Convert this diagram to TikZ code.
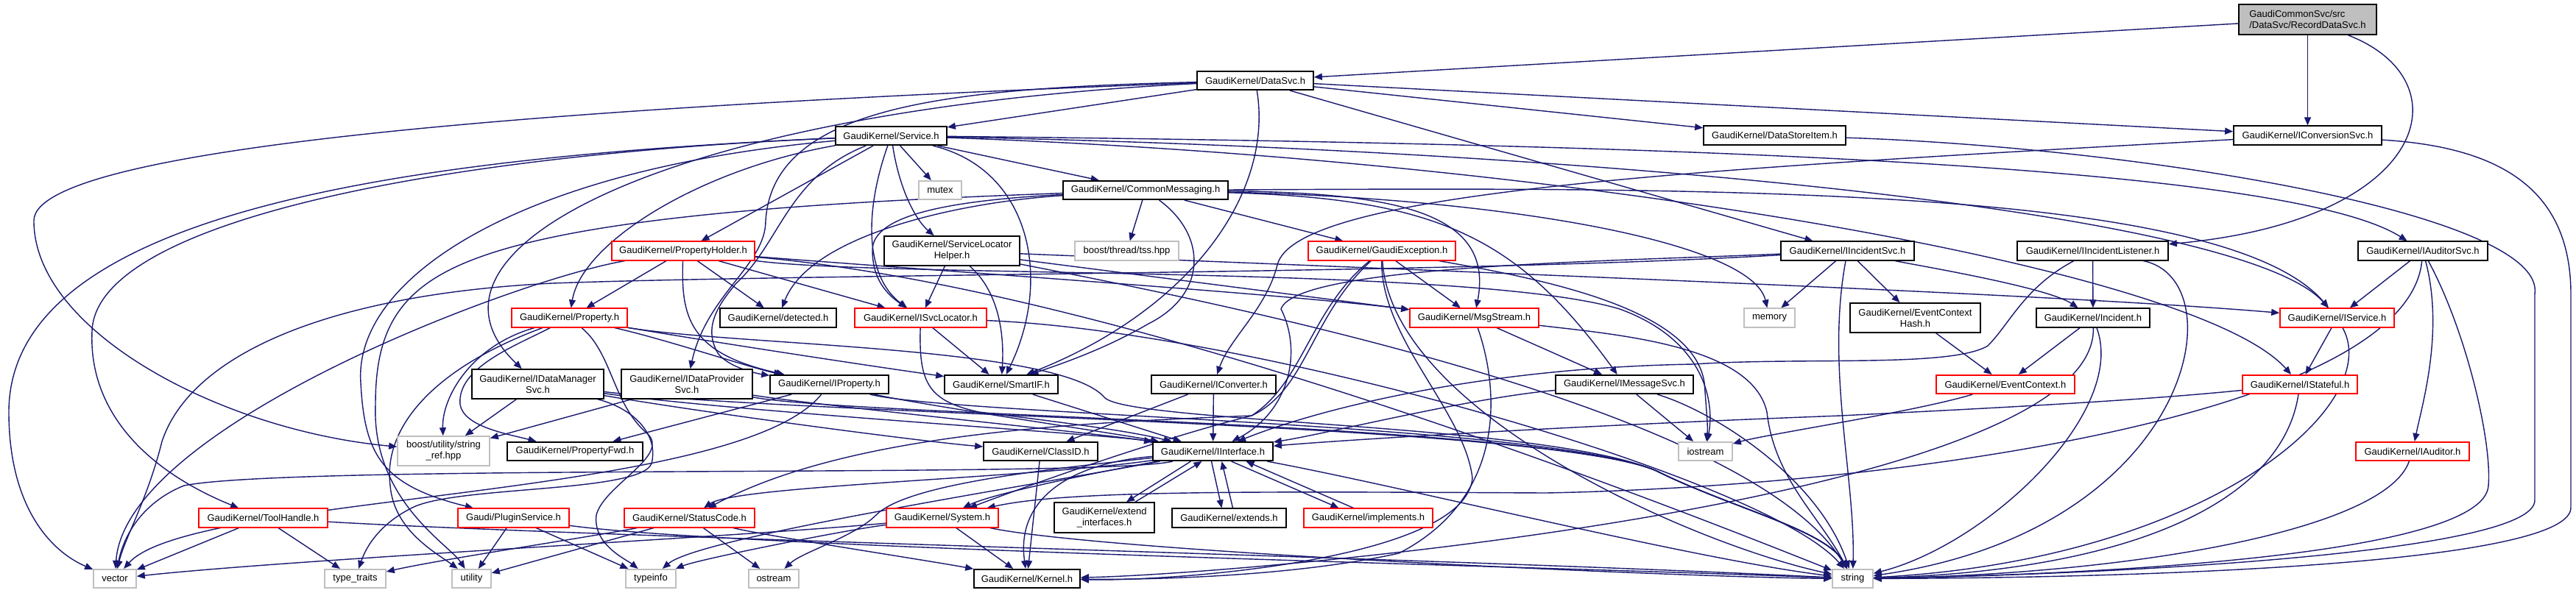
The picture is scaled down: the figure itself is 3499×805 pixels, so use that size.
\documentclass[tikz,border=0pt]{standalone}
\usepackage{fontspec}
\setmainfont{Liberation Sans}
\usetikzlibrary{arrows.meta}
\definecolor{edgec}{HTML}{191970}
\definecolor{grayb}{HTML}{BFBFBF}
\pgfdeclarelayer{bg}
\pgfsetlayers{bg,main}
\begin{document}
\begin{tikzpicture}[x=0.01cm,y=-0.01cm,
  gbox/.style={draw, fill=white, line width=0.45pt, inner sep=0pt, font=\fontsize{3.7}{4.3}\selectfont, minimum height=0.255cm, align=center},
  nb/.style={gbox, draw=black},
  nr/.style={gbox, draw=red},
  ng/.style={gbox, draw=grayb},
  edg/.style={draw=edgec, line width=0.4pt, -{Triangle[length=0.11cm,width=0.09cm]}},
]
\useasboundingbox (0,0) rectangle (3499,805);
\begin{pgfonlayer}{bg}
\fill[white] (0,0) rectangle (3499,805);
\end{pgfonlayer}
% ---------------- nodes ----------------
\node[nb, fill=grayb, align=left, minimum width=1.87cm, minimum height=0.41cm] (R) at (3134.5,26.5) {GaudiCommonSvc/src\\/DataSvc/RecordDataSvc.h};
\node[nb, minimum width=1.58cm] (DS) at (1705,109.5) {GaudiKernel/DataSvc.h};
\node[nb, minimum width=1.51cm] (SV) at (1210.5,184.5) {GaudiKernel/Service.h};
\node[nb, minimum width=1.93cm] (DSI) at (2410.5,184) {GaudiKernel/DataStoreItem.h};
\node[nb, minimum width=2.01cm] (ICS) at (3134.5,184) {GaudiKernel/IConversionSvc.h};
\node[ng, minimum width=0.58cm] (MX) at (1277,258.5) {mutex};
\node[nb, minimum width=2.24cm] (CM) at (1556,258.5) {GaudiKernel/CommonMessaging.h};
\node[nr, minimum width=1.94cm] (PH) at (928,341) {GaudiKernel/PropertyHolder.h};
\node[nb, minimum width=1.84cm, minimum height=0.40cm] (SLH) at (1293,341) {GaudiKernel/ServiceLocator\\Helper.h};
\node[ng, minimum width=1.41cm] (TSS) at (1530.5,341) {boost/thread/tss.hpp};
\node[nr, minimum width=2.00cm] (GE) at (1877,341) {GaudiKernel/GaudiException.h};
\node[nb, minimum width=1.81cm] (IIS) at (2509.5,341) {GaudiKernel/IIncidentSvc.h};
\node[nb, minimum width=2.05cm] (IIL) at (2842.5,341) {GaudiKernel/IIncidentListener.h};
\node[nb, minimum width=1.76cm] (IAS) at (3291,341) {GaudiKernel/IAuditorSvc.h};
\node[nr, minimum width=1.57cm] (PR) at (773.5,432) {GaudiKernel/Property.h};
\node[nb, minimum width=1.58cm] (DET) at (1057,432) {GaudiKernel/detected.h};
\node[nr, minimum width=1.79cm] (ISL) at (1250.5,432) {GaudiKernel/ISvcLocator.h};
\node[nr, minimum width=1.75cm] (MS) at (2002.5,432) {GaudiKernel/MsgStream.h};
\node[ng, minimum width=0.69cm] (MEM) at (2403.5,432) {memory};
\node[nb, minimum width=1.77cm, minimum height=0.40cm] (ECH) at (2601.5,432) {GaudiKernel/EventContext\\Hash.h};
\node[nb, minimum width=1.54cm] (INC) at (2843,432) {GaudiKernel/Incident.h};
\node[nr, minimum width=1.55cm] (IS) at (3174.5,432) {GaudiKernel/IService.h};
\node[nb, minimum width=1.79cm, minimum height=0.40cm] (IDM) at (730.5,522) {GaudiKernel/IDataManager\\Svc.h};
\node[nb, minimum width=1.78cm, minimum height=0.40cm] (IDP) at (933,522) {GaudiKernel/IDataProvider\\Svc.h};
\node[nb, minimum width=1.61cm] (IP) at (1126.5,522.5) {GaudiKernel/IProperty.h};
\node[nb, minimum width=1.54cm] (SIF) at (1360,522.5) {GaudiKernel/SmartIF.h};
\node[nb, minimum width=1.69cm] (ICV) at (1648.5,522.5) {GaudiKernel/IConverter.h};
\node[nb, minimum width=1.87cm] (IMS) at (2206.5,522.5) {GaudiKernel/IMessageSvc.h};
\node[nr, minimum width=1.88cm] (EC) at (2724,522.5) {GaudiKernel/EventContext.h};
\node[nr, minimum width=1.56cm] (IST) at (3124,522.5) {GaudiKernel/IStateful.h};
\node[ng, minimum width=1.25cm, minimum height=0.40cm] (SR) at (602.5,613) {boost/utility/string\\\_ref.hpp};
\node[nb, minimum width=1.84cm] (PF) at (781,613.5) {GaudiKernel/PropertyFwd.h};
\node[nb, minimum width=1.55cm] (CID) at (1413.5,613.5) {GaudiKernel/ClassID.h};
\node[nb, minimum width=1.63cm] (II) at (1647.5,613.5) {GaudiKernel/IInterface.h};
\node[ng, minimum width=0.73cm] (IOS) at (2316.5,613.5) {iostream};
\node[nr, minimum width=1.54cm] (IA) at (3277,613.5) {GaudiKernel/IAuditor.h};
\node[nr, minimum width=1.75cm] (TH) at (357.5,704) {GaudiKernel/ToolHandle.h};
\node[nr, minimum width=1.51cm] (PS) at (697.5,704) {Gaudi/PluginService.h};
\node[nr, minimum width=1.77cm] (SC) at (936.5,704) {GaudiKernel/StatusCode.h};
\node[nr, minimum width=1.52cm] (SYS) at (1280,704) {GaudiKernel/System.h};
\node[nb, minimum width=1.36cm, minimum height=0.41cm] (EI) at (1500,703.5) {GaudiKernel/extend\\\_interfaces.h};
\node[nb, minimum width=1.55cm] (EX) at (1669.5,704) {GaudiKernel/extends.h};
\node[nr, minimum width=1.75cm] (IMP) at (1858.5,704) {GaudiKernel/implements.h};
\node[ng, minimum width=0.58cm] (VEC) at (156,786.5) {vector};
\node[ng, minimum width=0.83cm] (TT) at (482.5,786.5) {type\_traits};
\node[ng, minimum width=0.53cm] (UT) at (640.5,786.5) {utility};
\node[ng, minimum width=0.68cm] (TI) at (884,786.5) {typeinfo};
\node[ng, minimum width=0.68cm] (OS) at (1051,786.5) {ostream};
\node[nb, minimum width=1.44cm] (KER) at (1395,786.5) {GaudiKernel/Kernel.h};
\node[ng, minimum width=0.55cm] (STR) at (2516.5,786.5) {string};
% ---------------- edges ----------------
\begin{pgfonlayer}{bg}
% RecordDataSvc
\draw[edg] (R) -- (DS);
\draw[edg] (R) -- (ICS);
\draw[edg] (R) .. controls (3350,110) and (3300,300) .. (IIL);
% DataSvc
\draw[edg] (DS) -- (SV);
\draw[edg] (DS) -- (DSI);
\draw[edg] (DS) -- (ICS);
\draw[edg] (DS) -- (IIS);
\draw[edg] (DS) .. controls (1730,260) and (1620,420) .. (SIF);
\draw[edg] (DS) .. controls (900,140) and (46,190) .. (46,300) .. controls (46,450) and (300,585) .. (SR);
\draw[edg] (DS) .. controls (900,150) and (540,340) .. (IDM);
\draw[edg] (DS) .. controls (1300,120) and (1050,140) .. (1040,300) .. controls (1040,360) and (960,400) .. (IDP);
% Service
\draw[edg] (SV) -- (CM);
\draw[edg] (SV) -- (MX);
\draw[edg] (SV) -- (PH);
\draw[edg] (SV) .. controls (1222,260) and (1245,300) .. (SLH);
\draw[edg] (SV) .. controls (950,230) and (790,330) .. (PR);
\draw[edg] (SV) .. controls (1070,240) and (1060,330) .. (1000,385) .. controls (975,415) and (955,445) .. (975,480) .. controls (990,500) and (1030,508) .. (IP);
\draw[edg] (SV) .. controls (1170,300) and (1180,380) .. (ISL);
\draw[edg] (SV) .. controls (1400,230) and (1430,380) .. (SIF);
\draw[edg] (SV) .. controls (2200,195) and (3100,220) .. (IAS);
\draw[edg] (SV) .. controls (2200,205) and (3050,290) .. (IS);
\draw[edg] (SV) .. controls (2100,215) and (2980,360) .. (IST);
\draw[edg] (SV) .. controls (600,210) and (130,300) .. (125,450) .. controls (120,560) and (200,640) .. (TH);
\draw[edg] (SV) .. controls (700,230) and (480,380) .. (490,520) .. controls (495,620) and (520,660) .. (PS);
\draw[edg] (SV) .. controls (500,215) and (12,300) .. (12,560) .. controls (12,690) and (70,750) .. (VEC);
% CommonMessaging
\draw[edg] (CM) -- (TSS);
\draw[edg] (CM) -- (GE);
\draw[edg] (CM) .. controls (1900,262) and (2030,290) .. (MS);
\draw[edg] (CM) .. controls (1950,270) and (2060,320) .. (IMS);
\draw[edg] (CM) .. controls (1300,272) and (1185,290) .. (1185,340) .. controls (1185,380) and (1205,400) .. (ISL);
\draw[edg] (CM) .. controls (1300,275) and (1100,320) .. (DET);
\draw[edg] (CM) .. controls (1640,320) and (1640,400) .. (1560,440) .. controls (1500,475) and (1440,495) .. (SIF);
\draw[edg] (CM) .. controls (2050,270) and (2380,330) .. (MEM);
\draw[edg] (CM) .. controls (2300,255) and (3020,250) .. (IS);
\draw[edg] (CM) .. controls (1100,275) and (800,295) .. (650,350) .. controls (540,390) and (510,450) .. (510,550) .. controls (505,680) and (610,740) .. (UT);
% PropertyHolder
\draw[edg] (PH) -- (PR);
\draw[edg] (PH) .. controls (925,430) and (935,480) .. (IP);
\draw[edg] (PH) -- (DET);
\draw[edg] (PH) -- (ISL);
\draw[edg] (PH) .. controls (1300,370) and (1750,400) .. (MS);
\draw[edg] (PH) .. controls (1500,390) and (2200,660) .. (STR);
\draw[edg] (PH) .. controls (700,380) and (170,580) .. (VEC);
\draw[edg] (PH) .. controls (1200,378) and (2000,360) .. (2200,420) .. controls (2310,460) and (2330,540) .. (IOS);
% ServiceLocatorHelper
\draw[edg] (SLH) -- (ISL);
\draw[edg] (SLH) .. controls (1350,390) and (1365,440) .. (SIF);
\draw[edg] (SLH) -- (MS);
\draw[edg] (SLH) .. controls (1700,420) and (2380,560) .. (STR);
\draw[edg] (SLH) .. controls (2000,370) and (2800,400) .. (IS);
% GaudiException
\draw[edg] (GE) -- (MS);
\draw[edg] (GE) .. controls (1780,420) and (1770,520) .. (1700,565) .. controls (1450,575) and (1150,590) .. (SC);
\draw[edg] (GE) .. controls (1875,460) and (1990,560) .. (2000,650) .. controls (1990,760) and (1600,790) .. (KER);
\draw[edg] (GE) .. controls (1890,560) and (2300,740) .. (STR);
\draw[edg] (GE) .. controls (2100,380) and (2300,420) .. (2315,520) .. controls (2318,560) and (2320,580) .. (IOS);
\draw[edg] (GE) .. controls (1780,430) and (1775,530) .. (1700,565) .. controls (1600,590) and (1450,640) .. (SYS);
% IIncidentSvc
\draw[edg] (IIS) .. controls (2200,355) and (1760,360) .. (1740,420) .. controls (1770,480) and (1750,560) .. (II);
\draw[edg] (IIS) -- (MEM);
\draw[edg] (IIS) .. controls (2480,500) and (2520,650) .. (STR);
\draw[edg] (IIS) -- (ECH);
\draw[edg] (IIS) .. controls (2600,360) and (2780,390) .. (INC);
\draw[edg] (IIS) .. controls (2000,372) and (1100,372) .. (750,385) .. controls (450,400) and (260,480) .. (220,600) .. controls (200,680) and (170,730) .. (VEC);
% IIncidentListener
\draw[edg] (IIL) -- (INC);
\draw[edg] (IIL) .. controls (2750,390) and (2730,440) .. (2700,470) .. controls (2650,500) and (2450,485) .. (2300,495) .. controls (2000,500) and (1780,560) .. (II);
\draw[edg] (IIL) .. controls (3040,380) and (2980,720) .. (STR);
% IAuditorSvc
\draw[edg] (IAS) -- (IS);
\draw[edg] (IAS) .. controls (3320,450) and (3290,550) .. (IA);
\draw[edg] (IAS) .. controls (3270,560) and (2600,660) .. (2100,670) .. controls (1700,668) and (1450,666) .. (SYS);
\draw[edg] (IAS) .. controls (3350,450) and (3385,600) .. (3380,660) .. controls (3375,750) and (2900,780) .. (STR);
% Property
\draw[edg] (PR) .. controls (900,460) and (1020,500) .. (IP);
\draw[edg] (PR) .. controls (700,470) and (620,500) .. (625,550) .. controls (630,580) and (690,590) .. (PF);
\draw[edg] (PR) .. controls (640,470) and (600,540) .. (SR);
\draw[edg] (PR) .. controls (1000,470) and (1200,500) .. (SIF);
\draw[edg] (PR) .. controls (1000,470) and (1440,470) .. (1500,540) .. controls (1530,575) and (2100,575) .. (2250,640) .. controls (2350,690) and (2480,720) .. (STR);
\draw[edg] (PR) .. controls (832,480) and (832,550) .. (880,590) .. controls (910,620) and (820,660) .. (810,700) .. controls (805,740) and (850,760) .. (TI);
\draw[edg] (PR) .. controls (590,500) and (520,580) .. (530,660) .. controls (535,720) and (590,750) .. (UT);
% ISvcLocator
\draw[edg] (ISL) .. controls (1248,520) and (1260,545) .. (1330,560) .. controls (1450,575) and (1530,585) .. (II);
\draw[edg] (ISL) -- (SIF);
\draw[edg] (ISL) .. controls (1700,450) and (2400,650) .. (STR);
% MsgStream
\draw[edg] (MS) -- (IMS);
\draw[edg] (MS) .. controls (2200,455) and (2380,470) .. (2400,560) .. controls (2410,650) and (2470,700) .. (STR);
\draw[edg] (MS) .. controls (2040,540) and (2040,680) .. (1900,752) .. controls (1750,785) and (1550,788) .. (KER);
% EventContext etc.
\draw[edg] (ECH) -- (EC);
\draw[edg] (INC) -- (EC);
\draw[edg] (INC) .. controls (2890,560) and (2700,740) .. (STR);
\draw[edg] (INC) .. controls (2850,680) and (1700,780) .. (KER);
\draw[edg] (IS) -- (IST);
\draw[edg] (IS) .. controls (3240,550) and (3000,760) .. (STR);
\draw[edg] (IST) .. controls (2900,545) and (2700,555) .. (2500,565) .. controls (2100,580) and (1800,600) .. (II);
\draw[edg] (IST) .. controls (3100,680) and (2900,775) .. (STR);
\draw[edg] (IA) .. controls (3240,720) and (2900,780) .. (STR);
\draw[edg] (EC) .. controls (2600,560) and (2400,590) .. (IOS);
% data services
\draw[edg] (IDM) -- (SR);
\draw[edg] (IDM) .. controls (860,555) and (895,590) .. (885,630) .. controls (870,670) and (620,660) .. (560,690) .. controls (510,715) and (495,750) .. (TT);
\draw[edg] (IDM) .. controls (1000,560) and (1500,590) .. (II);
\draw[edg] (IDM) .. controls (950,560) and (1250,600) .. (CID);
\draw[edg] (IDM) .. controls (1100,565) and (2100,575) .. (2250,640) .. controls (2350,690) and (2480,720) .. (STR);
\draw[edg] (IDP) -- (SR);
\draw[edg] (IDP) .. controls (1100,550) and (1500,590) .. (II);
\draw[edg] (IDP) .. controls (1150,565) and (2100,575) .. (2250,640) .. controls (2350,690) and (2480,720) .. (STR);
% IProperty, SmartIF, IConverter
\draw[edg] (IP) -- (PF);
\draw[edg] (IP) .. controls (1250,550) and (1520,590) .. (II);
\draw[edg] (IP) .. controls (1300,565) and (2100,575) .. (2250,640) .. controls (2350,690) and (2480,720) .. (STR);
\draw[edg] (IP) .. controls (1000,680) and (260,670) .. (VEC);
\draw[edg] (SIF) -- (II);
\draw[edg] (ICV) -- (II);
\draw[edg] (ICV) -- (CID);
% IConversionSvc, DataStoreItem
\draw[edg] (ICS) .. controls (2300,230) and (1760,260) .. (1735,360) .. controls (1720,420) and (1670,460) .. (ICV);
\draw[edg] (ICS) .. controls (3400,200) and (3492,260) .. (3492,400) -- (3492,690) .. controls (3492,760) and (3000,785) .. (STR);
\draw[edg] (DSI) .. controls (2900,200) and (3460,290) .. (3443,400) -- (3443,680) .. controls (3443,750) and (2900,780) .. (STR);
% IMessageSvc
\draw[edg] (IMS) .. controls (2000,540) and (1800,590) .. (II);
\draw[edg] (IMS) -- (IOS);
\draw[edg] (IMS) .. controls (2330,560) and (2470,650) .. (STR);
\draw[edg] (CID) -- (KER);
% IInterface
\draw[edg] (II) .. controls (1400,650) and (1000,660) .. (SC);
\draw[edg] (II) .. controls (1500,640) and (1350,670) .. (SYS);
\draw[edg] ([xshift=-0.3cm]II.south) -- ([xshift=0.3cm]EI.north);
\draw[edg] ([xshift=0.42cm]EI.north) -- ([xshift=-0.15cm]II.south);
\draw[edg] ([xshift=-0.02cm]II.south) -- ([xshift=-0.1cm]EX.north);
\draw[edg] ([xshift=0.05cm]EX.north) -- ([xshift=0.12cm]II.south);
\draw[edg] ([xshift=0.25cm]II.south) -- ([xshift=-0.4cm]IMP.north);
\draw[edg] ([xshift=-0.2cm]IMP.north) -- ([xshift=0.45cm]II.south);
\draw[edg] (II) .. controls (1450,630) and (1380,680) .. (KER);
\draw[edg] (II) .. controls (1400,640) and (1230,660) .. (1190,700) .. controls (1160,730) and (1090,750) .. (OS);
\draw[edg] (II) .. controls (1400,660) and (950,730) .. (TI);
\draw[edg] (II) .. controls (1500,650) and (400,630) .. (250,660) .. controls (200,680) and (170,720) .. (VEC);
\draw[edg] (II) .. controls (1900,660) and (2300,760) .. (STR);
% System, StatusCode
\draw[edg] (SYS) -- (KER);
\draw[edg] (SYS) .. controls (1150,720) and (950,760) .. (TI);
\draw[edg] (SYS) .. controls (1500,750) and (2300,785) .. (STR);
\draw[edg] (SYS) .. controls (1000,730) and (400,760) .. (VEC);
\draw[edg] (SC) .. controls (1050,730) and (1250,760) .. (KER);
\draw[edg] (SC) -- (OS);
\draw[edg] (SC) -- (UT);
\draw[edg] (SC) .. controls (800,730) and (600,760) .. (TT);
% ToolHandle, PluginService
\draw[edg] (TH) -- (VEC);
\draw[edg] (TH) -- (TT);
\draw[edg] (TH) .. controls (800,730) and (2000,760) .. (STR);
\draw[edg] (PS) -- (UT);
\draw[edg] (PS) -- (TI);
\draw[edg] (PS) .. controls (1000,745) and (2100,770) .. (STR);
\end{pgfonlayer}
\end{tikzpicture}
\end{document}
